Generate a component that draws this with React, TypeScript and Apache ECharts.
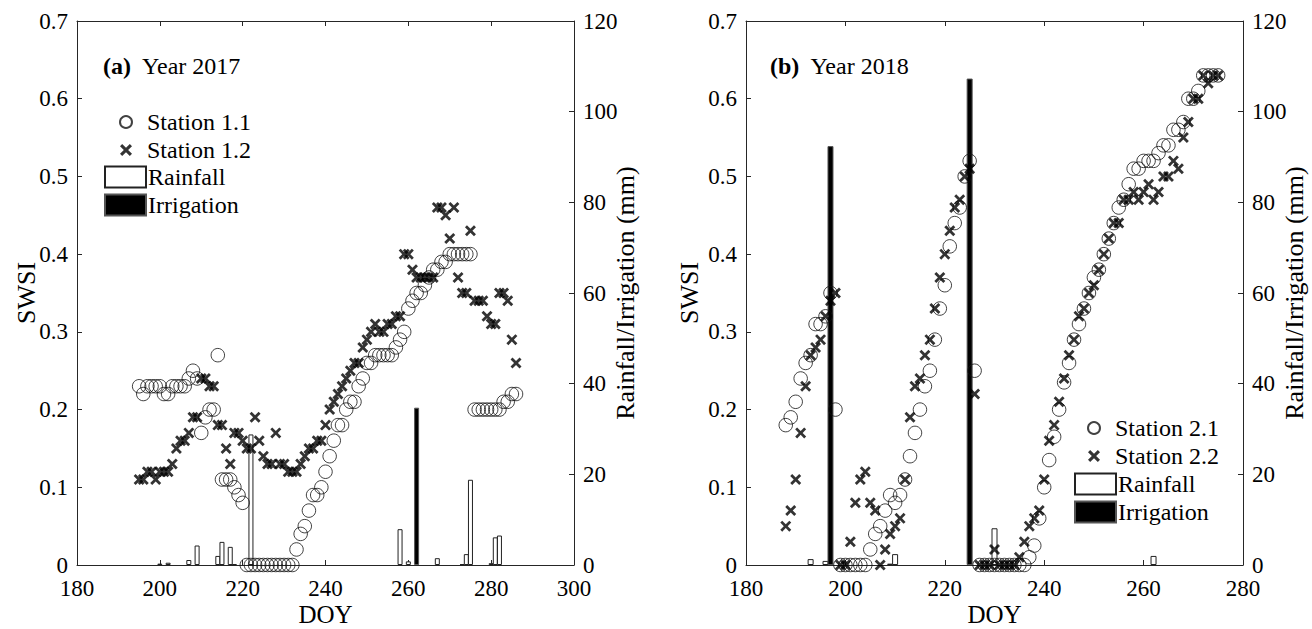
import React, { useEffect, useRef } from "react";
import * as echarts from "echarts";

const FONT = "'Liberation Serif', 'Times New Roman', serif";
const AXIS_COLOR = "#262626";
const X_SYMBOL =
  "path://M0,1.8L1.8,0L5,3.2L8.2,0L10,1.8L6.8,5L10,8.2L8.2,10L5,6.8L1.8,10L0,8.2L3.2,5Z";

// ---------- Panel (a): year 2017 ----------
const doy2017 = [
  195, 196, 197, 198, 199, 200, 201, 202, 203, 204, 205, 206, 207, 208, 209, 210,
  211, 212, 213, 214, 215, 216, 217, 218, 219, 220, 221, 222, 223, 224, 225, 226,
  227, 228, 229, 230, 231, 232, 233, 234, 235, 236, 237, 238, 239, 240, 241, 242,
  243, 244, 245, 246, 247, 248, 249, 250, 251, 252, 253, 254, 255, 256, 257, 258,
  259, 260, 261, 262, 263, 264, 265, 266, 267, 268, 269, 270, 271, 272, 273, 274,
  275, 276, 277, 278, 279, 280, 281, 282, 283, 284, 285, 286,
];
const station11 = [
  0.23, 0.22, 0.23, 0.23, 0.23, 0.23, 0.22, 0.22, 0.23, 0.23, 0.23, 0.23, 0.24, 0.25, 0.24, 0.17,
  0.19, 0.2, 0.2, 0.27, 0.11, 0.11, 0.11, 0.1, 0.09, 0.08, 0, 0, 0, 0, 0, 0,
  0, 0, 0, 0, 0, 0, 0.02, 0.04, 0.05, 0.07, 0.09, 0.09, 0.1, 0.12, 0.14, 0.16,
  0.18, 0.18, 0.2, 0.21, 0.21, 0.23, 0.24, 0.26, 0.26, 0.27, 0.27, 0.27, 0.27, 0.27, 0.28, 0.29,
  0.3, 0.33, 0.34, 0.35, 0.35, 0.36, 0.37, 0.38, 0.38, 0.39, 0.39, 0.4, 0.4, 0.4, 0.4, 0.4,
  0.4, 0.2, 0.2, 0.2, 0.2, 0.2, 0.2, 0.2, 0.21, 0.21, 0.22, 0.22,
];
const station12 = [
  0.11, 0.11, 0.12, 0.12, 0.11, 0.12, 0.12, 0.12, 0.13, 0.15, 0.16, 0.16, 0.17, 0.19, 0.19, 0.24,
  0.24, 0.23, 0.23, 0.18, 0.18, 0.15, 0.13, 0.17, 0.17, 0.16, 0.15, 0.15, 0.19, 0.16, 0.14, 0.13,
  0.13, 0.17, 0.13, 0.13, 0.12, 0.12, 0.12, 0.13, 0.14, 0.15, 0.15, 0.16, 0.16, 0.18, 0.2, 0.21,
  0.22, 0.23, 0.24, 0.25, 0.26, 0.26, 0.28, 0.29, 0.3, 0.31, 0.3, 0.3, 0.31, 0.31, 0.32, 0.32,
  0.4, 0.4, 0.38, 0.37, 0.37, 0.37, 0.37, 0.37, 0.46, 0.46, 0.45, 0.42, 0.46, 0.37, 0.35, 0.35,
  0.43, 0.34, 0.34, 0.34, 0.32, 0.31, 0.31, 0.35, 0.35, 0.34, 0.29, 0.26,
];
const rainDoy2017 = [200, 202, 207, 209, 214, 215, 217, 218, 222, 258, 260, 267, 273, 274, 275, 280, 281, 282];
const rainMm2017 = [0.3, 0.5, 1.1, 4.3, 2.0, 5.1, 4.0, 0.2, 28.8, 7.9, 0.8, 1.5, 0.2, 2.4, 18.8, 0.4, 6.1, 6.5];
const irrDoy2017 = [262];
const irrMm2017 = [34.7];

// ---------- Panel (b): year 2018 ----------
const doy2018 = [
  188, 189, 190, 191, 192, 193, 194, 195, 196, 197, 198, 199, 200, 201, 202, 203,
  204, 205, 206, 207, 208, 209, 210, 211, 212, 213, 214, 215, 216, 217, 218, 219,
  220, 221, 222, 223, 224, 225, 226, 227, 228, 229, 230, 231, 232, 233, 234, 235,
  236, 237, 238, 239, 240, 241, 242, 243, 244, 245, 246, 247, 248, 249, 250, 251,
  252, 253, 254, 255, 256, 257, 258, 259, 260, 261, 262, 263, 264, 265, 266, 267,
  268, 269, 270, 271, 272, 273, 274, 275,
];
const station21 = [
  0.18, 0.19, 0.21, 0.24, 0.26, 0.27, 0.31, 0.31, 0.32, 0.35, 0.2, 0, 0, 0, 0, 0,
  0, 0.02, 0.04, 0.05, 0.07, 0.09, 0.08, 0.09, 0.11, 0.14, 0.17, 0.2, 0.23, 0.25, 0.29, 0.33,
  0.36, 0.41, 0.44, 0.46, 0.5, 0.52, 0.25, 0, 0, 0, 0, 0, 0, 0, 0, 0,
  0, 0.01, 0.025, 0.06, 0.1, 0.135, 0.165, 0.2, 0.235, 0.26, 0.29, 0.31, 0.33, 0.35, 0.37, 0.38,
  0.4, 0.42, 0.44, 0.46, 0.47, 0.49, 0.51, 0.51, 0.52, 0.52, 0.52, 0.53, 0.54, 0.54, 0.56, 0.56,
  0.57, 0.6, 0.6, 0.61, 0.63, 0.63, 0.63, 0.63,
];
const station22 = [
  0.05, 0.07, 0.11, 0.17, 0.23, 0.27, 0.28, 0.29, 0.32, 0.34, 0.35, 0, 0, 0.03, 0.08, 0.11,
  0.12, 0.08, 0.07, 0, 0.02, 0.04, 0.05, 0.06, 0.11, 0.19, 0.23, 0.24, 0.27, 0.29, 0.33, 0.37,
  0.4, 0.43, 0.46, 0.47, 0.5, 0.51, 0.22, 0, 0, 0, 0.02, 0, 0, 0, 0, 0.01,
  0.03, 0.05, 0.06, 0.07, 0.11, 0.16, 0.18, 0.21, 0.24, 0.27, 0.29, 0.32, 0.33, 0.35, 0.36, 0.38,
  0.4, 0.42, 0.44, 0.44, 0.47, 0.47, 0.48, 0.47, 0.48, 0.49, 0.47, 0.48, 0.5, 0.5, 0.52, 0.51,
  0.55, 0.57, 0.6, 0.6, 0.63, 0.62, 0.63, 0.63,
];
const rainDoy2018 = [193, 196, 209, 210, 230, 262];
const rainMm2018 = [1.3, 0.9, 0.3, 2.4, 8.1, 2.0];
const irrDoy2018 = [197, 225];
const irrMm2018 = [92.4, 107.3];

const swsiTicks = { min: 0, max: 0.7, interval: 0.1 };
const mmTicks = { min: 0, max: 120, interval: 20 };

function pairs(x: number[], y: number[]) {
  return x.map((d, i) => [d, y[i]]);
}

const labelStyle = { color: "#000", fontFamily: FONT, fontSize: 23 };
const nameStyle = { color: "#000", fontFamily: FONT, fontSize: 26, lineHeight: 20 };
const xNameStyle = { color: "#000", fontFamily: FONT, fontSize: 25, lineHeight: 20 };
const lineStyle = { color: AXIS_COLOR, width: 1 };

function xAxes(gridIndex: number, max: number) {
  return [
    {
      type: "value",
      gridIndex,
      min: 180,
      max,
      interval: 20,
      position: "bottom",
      axisLine: { show: true, onZero: false, lineStyle },
      axisTick: { show: true, inside: true, length: 5, lineStyle },
      axisLabel: { ...labelStyle, margin: 12, showMinLabel: true, showMaxLabel: true },
      splitLine: { show: false },
      name: "DOY",
      nameLocation: "middle",
      nameGap: 39,
      nameMoveOverlap: false,
      nameTextStyle: xNameStyle,
    },
    {
      type: "value",
      gridIndex,
      min: 180,
      max,
      interval: 20,
      position: "top",
      axisLine: { show: true, onZero: false, lineStyle },
      axisTick: { show: true, inside: true, length: 5, lineStyle },
      axisLabel: { show: false },
      splitLine: { show: false },
    },
  ];
}

function yAxes(gridIndex: number, leftGap: number) {
  return [
    {
      type: "value",
      gridIndex,
      ...swsiTicks,
      position: "left",
      axisLine: { show: true, onZero: false, lineStyle },
      axisTick: { show: true, inside: true, length: 5, lineStyle },
      axisLabel: { ...labelStyle, margin: 9, showMinLabel: true, showMaxLabel: true },
      splitLine: { show: false },
      name: "SWSI",
      nameLocation: "middle",
      nameGap: leftGap,
      nameRotate: 90,
      nameMoveOverlap: false,
      nameTextStyle: nameStyle,
    },
    {
      type: "value",
      gridIndex,
      ...mmTicks,
      position: "right",
      axisLine: { show: true, onZero: false, lineStyle },
      axisTick: { show: true, inside: true, length: 5, lineStyle },
      axisLabel: { ...labelStyle, margin: 9, showMinLabel: true, showMaxLabel: true },
      splitLine: { show: false },
      name: "Rainfall/Irrigation (mm)",
      nameLocation: "middle",
      nameGap: 41,
      nameRotate: 90,
      nameMoveOverlap: false,
      nameTextStyle: nameStyle,
    },
  ];
}

function panelSeries(
  xIdx: number,
  yLeft: number,
  yRight: number,
  barW: number,
  rain: number[][],
  irr: number[][],
  s1Name: string,
  s1: number[][],
  s2Name: string,
  s2: number[][]
) {
  return [
    {
      type: "bar",
      name: "Rainfall",
      xAxisIndex: xIdx,
      yAxisIndex: yRight,
      barWidth: barW,
      barGap: "-100%",
      data: rain,
      itemStyle: { color: "#ffffff", borderColor: "#222", borderWidth: 1 },
    },
    {
      type: "bar",
      name: "Irrigation",
      xAxisIndex: xIdx,
      yAxisIndex: yRight,
      barWidth: barW,
      barGap: "-100%",
      data: irr,
      itemStyle: { color: "#000", borderColor: "#555", borderWidth: 1 },
    },
    {
      type: "scatter",
      name: s1Name,
      xAxisIndex: xIdx,
      yAxisIndex: yLeft,
      symbol: "circle",
      symbolSize: 13.5,
      data: s1,
      itemStyle: { color: "rgba(255,255,255,0)", borderColor: "#111", borderWidth: 1 },
    },
    {
      type: "scatter",
      name: s2Name,
      xAxisIndex: xIdx,
      yAxisIndex: yLeft,
      symbol: X_SYMBOL,
      symbolSize: 11,
      data: s2,
      itemStyle: { color: "#000" },
    },
  ];
}

const legendText = { fontFamily: FONT, fontSize: 24, color: "#000" };

function stationLegend(left: number, top: number, names: string[]) {
  return {
    orient: "vertical",
    left,
    top,
    padding: 0,
    itemWidth: 12,
    itemHeight: 12,
    itemGap: 4,
    selectedMode: false,
    data: names,
    textStyle: { ...legendText, padding: [0, 0, 0, 10] },
  };
}

function barLegend(left: number, top: number) {
  return {
    orient: "vertical",
    left,
    top,
    padding: 0,
    itemWidth: 41,
    itemHeight: 21,
    itemGap: 4,
    selectedMode: false,
    data: [
      { name: "Rainfall", icon: "rect" },
      { name: "Irrigation", icon: "rect" },
    ],
    textStyle: { ...legendText, padding: [0, 0, 0, -3] },
  };
}

function titleOf(text: string, left: number) {
  return {
    text,
    left,
    top: 54,
    padding: 0,
    textStyle: {
      ...legendText,
      fontWeight: "normal",
      rich: { b: { ...legendText, fontWeight: "bold" } },
    },
  };
}

export default function App() {
  const ref = useRef<HTMLDivElement>(null);

  useEffect(() => {
    document.body.style.margin = "0";
    const chart = echarts.init(ref.current!, null, { renderer: "svg" });
    const option = {
      animation: false,
      backgroundColor: "#fff",
      grid: [
        { left: 77, top: 21, width: 497, height: 544, show: false, containLabel: false, outerBoundsMode: "none" },
        { left: 746, top: 21, width: 497, height: 544, show: false, containLabel: false, outerBoundsMode: "none" },
      ],
      title: [titleOf("{b|(a)}  Year 2017", 103), titleOf("{b|(b)}  Year 2018", 770)],
      legend: [
        stationLegend(119, 110, ["Station 1.1", "Station 1.2"]),
        barLegend(104, 165),
        stationLegend(1087, 416, ["Station 2.1", "Station 2.2"]),
        barLegend(1074, 472),
      ],
      xAxis: [...xAxes(0, 300), ...xAxes(1, 280)],
      yAxis: [...yAxes(0, 41), ...yAxes(1, 47)],
      series: [
        ...panelSeries(
          0, 0, 1, 5,
          pairs(rainDoy2017, rainMm2017),
          pairs(irrDoy2017, irrMm2017),
          "Station 1.1", pairs(doy2017, station11),
          "Station 1.2", pairs(doy2017, station12)
        ),
        ...panelSeries(
          2, 2, 3, 6,
          pairs(rainDoy2018, rainMm2018),
          pairs(irrDoy2018, irrMm2018),
          "Station 2.1", pairs(doy2018, station21),
          "Station 2.2", pairs(doy2018, station22)
        ),
      ],
    };
    chart.setOption(option as any);
    return () => chart.dispose();
  }, []);

  return (
    <div
      ref={ref}
      style={{ position: "fixed", left: 0, top: 0, width: 1312, height: 629, background: "#fff" }}
    />
  );
}
